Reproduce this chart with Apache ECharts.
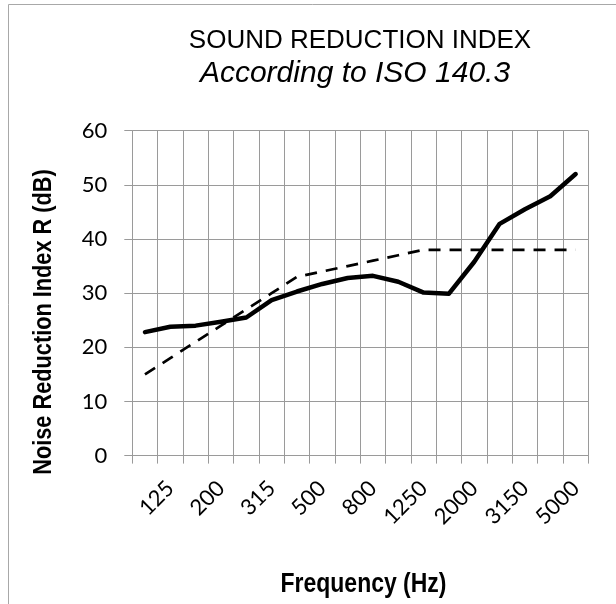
<!DOCTYPE html>
<html>
<head>
<meta charset="utf-8">
<script src="https://cdn.jsdelivr.net/npm/echarts@6/dist/echarts.min.js"></script>
<style>
html,body{margin:0;padding:0;background:#fff;}
#chart{width:616px;height:604px;}
</style>
</head>
<body>
<div id="chart"></div>
<script>
const categories = ['100','125','160','200','250','315','400','500','630','800','1000','1250','1600','2000','2500','3150','4000','5000'];
const measured = [22.8,23.8,24.0,24.7,25.5,28.7,30.3,31.7,32.8,33.2,32.1,30.1,29.9,35.8,42.8,45.5,47.9,52.0];
const reference = [15,18,21,24,27,30,33,34,35,36,37,38,38,38,38,38,38,38];
const titleText = 'SOUND REDUCTION INDEX';
const subtitleText = 'According to ISO 140.3';
const xName = 'Frequency (Hz)';
const yName = 'Noise Reduction Index R (dB)';

const gridColor = '#9a9a9a';
const sans = "'Liberation Sans',Arial,sans-serif";
const chart = echarts.init(document.getElementById('chart'), null, {renderer:'canvas'});
chart.setOption({
  animation:false,
  backgroundColor:'#fff',
  graphic:[
    {type:'rect', silent:true, shape:{x:8.5,y:4.5,width:700,height:700}, style:{fill:'none',stroke:'#a8a8a8',lineWidth:1}},
    {type:'text', x:360, y:40.5, style:{text:titleText, align:'center', verticalAlign:'middle', fontFamily:sans, fontSize:26, fill:'#000'}},
    {type:'text', x:355, y:74, style:{text:subtitleText, align:'center', verticalAlign:'middle', fontFamily:sans, fontStyle:'italic', fontSize:30, fill:'#000'}},
    {type:'text', x:44, y:322, rotation:Math.PI/2, scaleX:0.82, style:{text:yName, align:'center', verticalAlign:'middle', fontFamily:sans, fontWeight:'bold', fontSize:26.5, fill:'#000'}},
    {type:'text', x:363.5, y:584.5, scaleX:0.82, style:{text:xName, align:'center', verticalAlign:'middle', fontFamily:sans, fontWeight:'bold', fontSize:28, fill:'#000'}}
  ],
  grid:{left:132.3, right:27.7, top:130.7, bottom:148.4, containLabel:false},
  xAxis:{
    type:'category', data:categories, boundaryGap:true,
    axisLine:{show:true, lineStyle:{color:gridColor, width:1}},
    axisTick:{show:true, interval:0, length:8, lineStyle:{color:gridColor, width:1}},
    splitLine:{show:true, interval:0, lineStyle:{color:gridColor, width:1}},
    axisLabel:{interval:function(i){return i%2===1;}, rotate:45, margin:29, fontFamily:'Lato', fontSize:22, color:'#000'}
  },
  yAxis:{
    type:'value', min:0, max:60, interval:10,
    axisLine:{show:true, lineStyle:{color:gridColor, width:1}},
    axisTick:{show:true, length:8, lineStyle:{color:gridColor, width:1}},
    splitLine:{show:true, lineStyle:{color:gridColor, width:1}},
    axisLabel:{margin:25, fontFamily:'Lato', fontSize:22, color:'#000'}
  },
  series:[
    {type:'line', data:measured, showSymbol:false, symbol:'none', lineStyle:{color:'#000', width:4.5, cap:'round', join:'round'}},
    {type:'line', data:reference, showSymbol:false, symbol:'none', lineStyle:{color:'#000', width:2.7, type:[12,9], join:'round'}}
  ]
});
</script>
</body>
</html>
